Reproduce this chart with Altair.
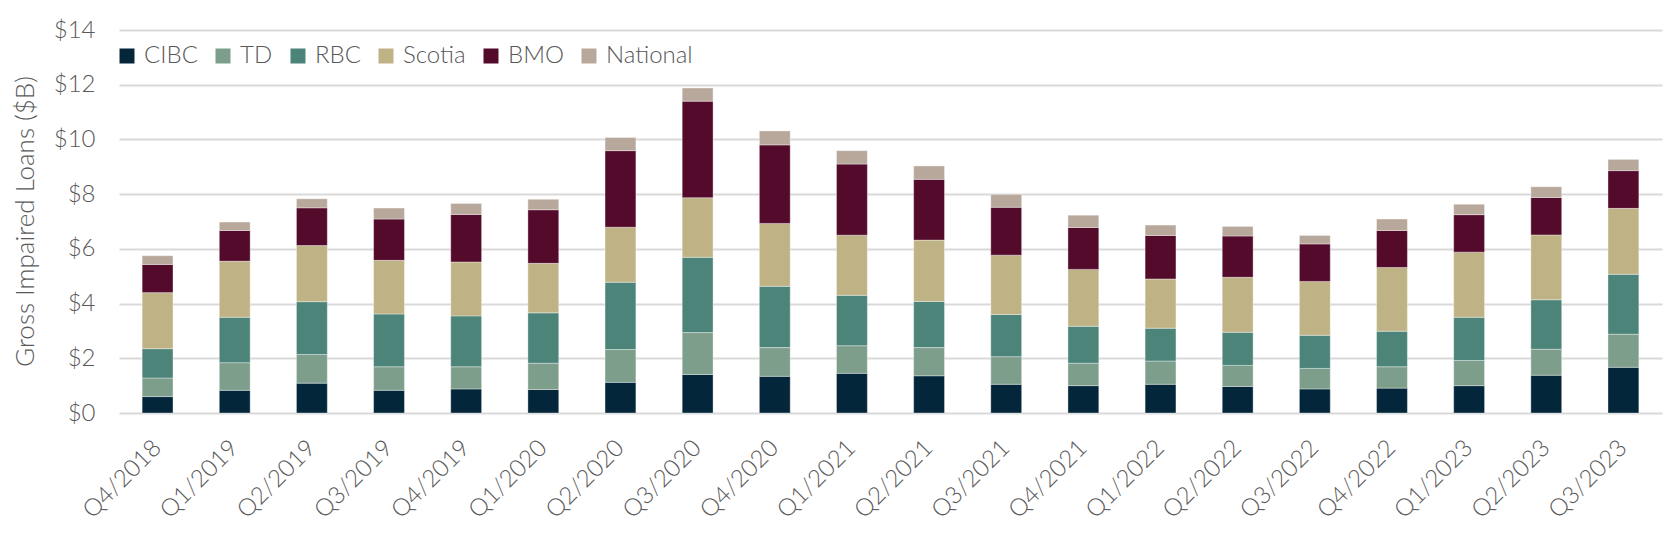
import altair as alt
import pandas as pd

quarters = ["Q4/2018", "Q1/2019", "Q2/2019", "Q3/2019", "Q4/2019", "Q1/2020", "Q2/2020",
            "Q3/2020", "Q4/2020", "Q1/2021", "Q2/2021", "Q3/2021", "Q4/2021", "Q1/2022",
            "Q2/2022", "Q3/2022", "Q4/2022", "Q1/2023", "Q2/2023", "Q3/2023"]

banks = ["CIBC", "TD", "RBC", "Scotia", "BMO", "National"]
colors = ["#03263A", "#7E9E8C", "#4C847A", "#BFB386", "#530A2B", "#B8A89B"]

cibc = [0.60, 0.83, 1.09, 0.83, 0.88, 0.86, 1.12, 1.41, 1.34, 1.45,
        1.36, 1.05, 1.00, 1.05, 0.97, 0.88, 0.91, 1.00, 1.38, 1.67]
td = [0.68, 1.01, 1.05, 0.86, 0.81, 0.96, 1.20, 1.53, 1.05, 1.01,
      1.03, 1.01, 0.82, 0.85, 0.77, 0.75, 0.78, 0.92, 0.95, 1.21]
rbc = [1.07, 1.66, 1.93, 1.93, 1.86, 1.84, 2.46, 2.75, 2.24, 1.84,
       1.69, 1.54, 1.35, 1.20, 1.21, 1.21, 1.30, 1.58, 1.81, 2.19]
scotia = [2.05, 2.05, 2.05, 1.96, 1.97, 1.81, 2.01, 2.18, 2.30, 2.20,
          2.24, 2.17, 2.08, 1.80, 2.01, 1.97, 2.33, 2.38, 2.37, 2.41]
bmo = [1.03, 1.12, 1.38, 1.51, 1.74, 1.96, 2.80, 3.53, 2.87, 2.60,
       2.22, 1.75, 1.53, 1.59, 1.51, 1.37, 1.35, 1.37, 1.37, 1.38]
national = [0.32, 0.31, 0.33, 0.40, 0.40, 0.38, 0.48, 0.48, 0.51, 0.49,
            0.49, 0.47, 0.45, 0.38, 0.35, 0.31, 0.42, 0.38, 0.39, 0.41]

series = [cibc, td, rbc, scotia, bmo, national]
rows = []
for k, (bank, vals) in enumerate(zip(banks, series)):
    for q, v in zip(quarters, vals):
        rows.append({"quarter": q, "bank": bank, "value": v, "order": k})
df = pd.DataFrame(rows)

FONT = "Lato"
GREY = "#595959"

chart = alt.Chart(df).mark_bar(stroke="white", strokeWidth=0.6, strokeOpacity=0.6).encode(
    x=alt.X("quarter:N", sort=quarters,
            scale=alt.Scale(paddingInner=0.6, paddingOuter=0.3),
            axis=alt.Axis(title=None, labelAngle=-45, labelAlign="right", labelBaseline="middle",
                          labelPadding=31, labelFontSize=24, labelColor=GREY, labelFont=FONT,
                          labelFontWeight=300, labelBound=False,
                          ticks=False, domain=False, grid=False)),
    y=alt.Y("value:Q", stack="zero",
            scale=alt.Scale(domain=[0, 14], nice=False),
            axis=alt.Axis(title="Gross Impaired Loans ($B)", values=list(range(0, 15, 2)),
                          labelExpr="'$' + datum.value", labelFontSize=24, labelColor=GREY,
                          labelFont=FONT, labelFontWeight=300, labelPadding=24,
                          ticks=False, domain=False,
                          grid=True, gridColor="#D9D9D9", gridWidth=2,
                          titleFontSize=26, titleFont=FONT, titleColor=GREY,
                          titleFontWeight=300, titleX=-94, titleY=191,
                          titleAngle=-90, titleAlign="center", titleBaseline="middle")),
    color=alt.Color("bank:N", sort=banks,
                    scale=alt.Scale(domain=banks, range=colors),
                    legend=alt.Legend(title=None, orient="none", legendX=-4, legendY=14,
                                      direction="horizontal", columns=6, symbolType="square",
                                      symbolSize=225, symbolStrokeWidth=0, labelFontSize=24,
                                      labelFont=FONT, labelFontWeight=300, labelColor=GREY,
                                      labelOffset=5, columnPadding=13)),
    order=alt.Order("order:Q", sort="ascending"),
).properties(
    width=1543, height=383,
    padding={"left": 111, "top": 22, "right": 7, "bottom": 114},
    autosize="none",
).configure_view(stroke=None)

chart.save("out.html", embed_options={"renderer": "svg", "actions": False})
